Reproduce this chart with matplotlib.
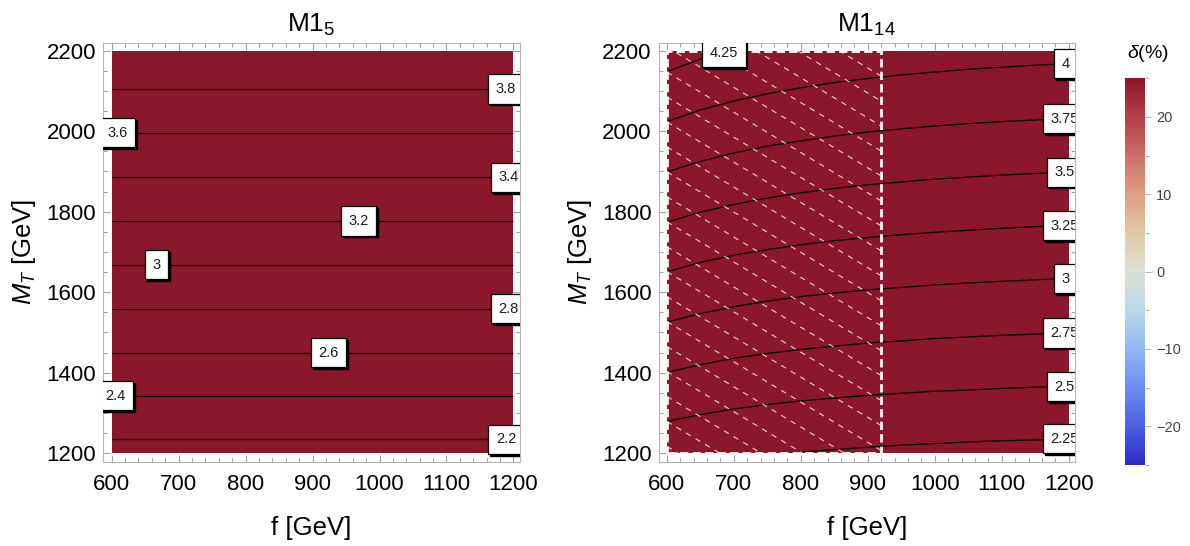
import numpy as np
import matplotlib
matplotlib.use('Agg')
import matplotlib.pyplot as plt
from matplotlib.colors import LinearSegmentedColormap, Normalize
from matplotlib.cm import ScalarMappable
from matplotlib.patches import Rectangle
from matplotlib.ticker import MultipleLocator
import matplotlib.transforms as mtransforms

plt.rcParams['font.family'] = ['Liberation Sans', 'DejaVu Sans']
plt.rcParams['mathtext.fontset'] = 'custom'
plt.rcParams['mathtext.rm'] = 'Liberation Sans'
plt.rcParams['mathtext.it'] = 'Liberation Sans:italic'

nan = np.nan

# ---------------- data ----------------
f_range = [600, 1200]          # GeV
M_range = [1200, 2200]         # GeV
delta_fill = 25                # delta (%) of the filled region (top of scale)
delta_min, delta_max = -25, 25
cbar_ticks = [-20, -10, 0, 10, 20]

# M1_5 : contour levels and their (constant) M_T positions
levels_M1_5 = [2.2, 2.4, 2.6, 2.8, 3.0, 3.2, 3.4, 3.6, 3.8]
M_M1_5 = [1235, 1343, 1450, 1559, 1668, 1777, 1886, 1996, 2105]

# M1_14 : contour lines M_T(f)
f_M1_14 = [600, 650, 700, 750, 800, 850, 900, 950, 1000, 1050, 1100, 1150, 1200]
M_225 = [nan, nan, nan, 1194, 1203, 1209, 1215, 1220, 1224, 1228, 1231, 1233, 1236]
M_250 = [1279, 1296, 1310, 1321, 1330, 1337, 1344, 1349, 1354, 1357, 1361, 1364, 1366]
M_275 = [1401, 1420, 1436, 1448, 1458, 1466, 1474, 1479, 1485, 1489, 1493, 1496, 1499]
M_300 = [1526, 1547, 1564, 1578, 1589, 1598, 1606, 1612, 1618, 1623, 1627, 1631, 1634]
M_325 = [1651, 1674, 1692, 1706, 1718, 1728, 1736, 1743, 1749, 1754, 1759, 1763, 1766]
M_350 = [1774, 1799, 1818, 1834, 1847, 1858, 1867, 1874, 1881, 1886, 1891, 1895, 1899]
M_375 = [1899, 1925, 1946, 1963, 1976, 1988, 1998, 2006, 2013, 2019, 2024, 2028, 2032]
M_400 = [2024, 2053, 2075, 2093, 2108, 2121, 2131, 2140, 2147, 2154, 2159, 2164, 2168]
M_425 = [2148, 2179, 2203, 2222, nan, nan, nan, nan, nan, nan, nan, nan, nan]
levels_M1_14 = [2.25, 2.5, 2.75, 3.0, 3.25, 3.5, 3.75, 4.0, 4.25]
curves_M1_14 = [M_225, M_250, M_275, M_300, M_325, M_350, M_375, M_400, M_425]

f_excluded = 919   # hatched region: f below this value (M1_14)

# ---------------- layout ----------------
label_f_M1_5 = [1189, 606, 924, 1193, 667, 969, 1193, 609, 1189]
label_f_M1_14 = [1194, 1194, 1194, 1196, 1194, 1194, 1194, 1196, 685]

colors = [(0.00, (0.17, 0.17, 0.78)),
          (0.10, (0.30, 0.38, 0.88)),
          (0.20, (0.42, 0.56, 0.94)),
          (0.30, (0.57, 0.72, 0.95)),
          (0.40, (0.73, 0.85, 0.91)),
          (0.50, (0.86, 0.88, 0.83)),
          (0.60, (0.88, 0.79, 0.65)),
          (0.70, (0.87, 0.63, 0.51)),
          (0.80, (0.80, 0.43, 0.41)),
          (0.90, (0.71, 0.25, 0.28)),
          (1.00, (0.54, 0.09, 0.17))]
cmap = LinearSegmentedColormap.from_list('temperature', colors)
norm = Normalize(delta_min, delta_max)

fig = plt.figure(figsize=(11.9, 5.46), dpi=100)
axL = fig.add_axes([0.0868, 0.1544, 0.3500, 0.7674])
axR = fig.add_axes([0.5534, 0.1544, 0.3500, 0.7674])
cax = fig.add_axes([0.9454, 0.1484, 0.0168, 0.7082])

LABEL_FS = 10.5


def add_label(ax, x, y, s):
    shadow_tr = mtransforms.offset_copy(ax.transData, fig=fig, x=1.8, y=-1.8, units='dots')
    t1 = ax.text(x, y, s, transform=shadow_tr, ha='center', va='center',
                 fontsize=LABEL_FS, color='k', zorder=7,
                 bbox=dict(boxstyle='square,pad=0.52', fc='k', ec='k', lw=1.0))
    t2 = ax.text(x, y, s, ha='center', va='center', fontsize=LABEL_FS,
                 color='#1a1a1a', zorder=8,
                 bbox=dict(boxstyle='square,pad=0.52', fc='white', ec='k', lw=0.9))
    for t in (t1, t2):
        t.set_clip_path(ax.patch)
        t.set_clip_on(True)


def style_axes(ax, title):
    ax.set_xlim(587.5, 1209.5)
    ax.set_ylim(1179, 2220)
    ax.set_xticks(range(600, 1201, 100))
    ax.set_yticks(range(1200, 2201, 200))
    ax.xaxis.set_minor_locator(MultipleLocator(20))
    ax.yaxis.set_minor_locator(MultipleLocator(50))
    ax.tick_params(which='both', direction='in', top=True, right=True,
                   color='#a0a0a0', width=0.8)
    ax.tick_params(which='major', length=5, labelsize=16)
    ax.tick_params(which='minor', length=3)
    ax.tick_params(axis='x', pad=9)
    ax.tick_params(axis='y', pad=5)
    for sp in ax.spines.values():
        sp.set_color('#b5b5b5')
        sp.set_linewidth(0.8)
    ax.set_title(title, fontsize=19, pad=8)
    ax.set_xlabel('f [GeV]', fontsize=18.5, labelpad=15)
    ax.set_ylabel(r'$M_T$ [GeV]', fontsize=18.5, labelpad=6)


for ax in (axL, axR):
    ax.pcolormesh(f_range, M_range, [[delta_fill]], cmap=cmap, norm=norm,
                  shading='flat', zorder=1)

# ---- left panel: M1_5
axL.hlines(M_M1_5, f_range[0], f_range[1], colors='k', lw=0.9, zorder=3)
for lev, M, fl in zip(levels_M1_5, M_M1_5, label_f_M1_5):
    add_label(axL, fl, M, f'{lev:g}')
style_axes(axL, r'M1$_{5}$')

# ---- right panel: M1_14
clip_rect = Rectangle((f_range[0], M_range[0]), f_range[1] - f_range[0],
                      M_range[1] - M_range[0], transform=axR.transData)
for lev, M in zip(levels_M1_14, curves_M1_14):
    ln, = axR.plot(f_M1_14, M, color='k', lw=0.9, zorder=3)
    ln.set_clip_path(clip_rect)

# hatched excluded region
hatch_rect = Rectangle((f_range[0], M_range[0]), f_excluded - f_range[0],
                       M_range[1] - M_range[0], transform=axR.transData)
spacing = 62.0
for c in np.arange(M_range[1] + (f_excluded - f_range[0]), M_range[0] - 1, -spacing):
    ln, = axR.plot([f_range[0], f_excluded], [c, c - (f_excluded - f_range[0])],
                   color=(1, 1, 1, 0.8), lw=0.8, dashes=(5, 5), zorder=4)
    ln.set_clip_path(hatch_rect)
axR.add_patch(Rectangle((f_range[0], M_range[0]), f_excluded - f_range[0],
                        M_range[1] - M_range[0], fill=False, ec='#f4f4f4',
                        lw=2.0, ls=(0, (3, 1.5)), zorder=5, clip_on=False))

for lev, M, fl in zip(levels_M1_14, curves_M1_14, label_f_M1_14):
    if lev == levels_M1_14[-1]:
        y = 2195
    else:
        y = np.interp(fl, f_M1_14, M)
    add_label(axR, fl, y, f'{lev:g}')
style_axes(axR, r'M1$_{14}$')

# ---- colorbar
sm = ScalarMappable(norm=norm, cmap=cmap)
cb = fig.colorbar(sm, cax=cax, ticks=cbar_ticks)
cb.outline.set_visible(False)
cax.yaxis.set_minor_locator(MultipleLocator(5))
cax.tick_params(which='both', color='#b0b0b0', labelcolor='#444444', width=0.7)
cax.tick_params(which='major', length=4, labelsize=10.5, pad=4)
cax.tick_params(which='minor', length=3)
fig.text(1148 / 1190, 1 - 53 / 546, r'$\delta$(%)', ha='center', va='center', fontsize=14)

fig.savefig('out.png', dpi=100)
